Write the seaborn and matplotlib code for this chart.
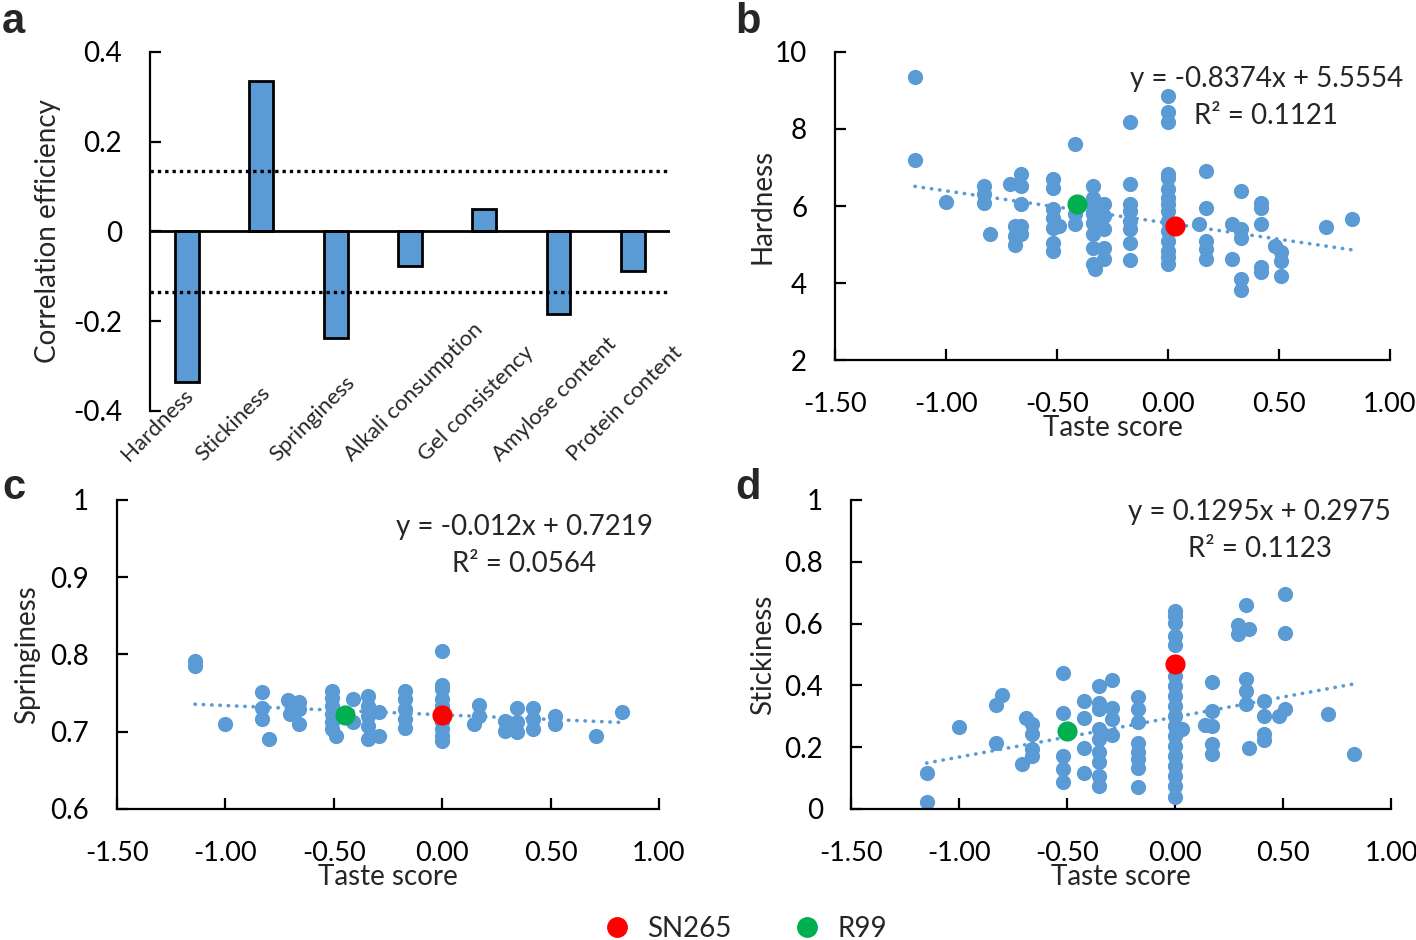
import matplotlib
matplotlib.use("Agg")
import matplotlib.pyplot as plt
from matplotlib.lines import Line2D
from matplotlib.ticker import FuncFormatter
import matplotlib.transforms as mtransforms
import numpy as np
import seaborn as sns

# panel a: correlation of taste score with each trait
traits = ["Hardness", "Stickiness", "Springiness", "Alkali consumption",
          "Gel consistency", "Amylose content", "Protein content"]
corr_values = [-0.335, 0.336, -0.238, -0.078, 0.051, -0.184, -0.089]
signif_level = 0.135

# panel b: hardness vs taste score
hard_x = ([-1.14] * 2 + [-1.00] + [-0.83] * 3 + [-0.80] + [-0.71] + [-0.69] * 3
          + [-0.66] * 5 + [-0.52] * 7 + [-0.49] + [-0.42] * 3 + [-0.34] * 8
          + [-0.33] + [-0.29] * 5 + [-0.17] * 8 + [0.00] * 15 + [0.14]
          + [0.17] * 5 + [0.29] * 2 + [0.33] * 5 + [0.42] * 5 + [0.48]
          + [0.51] * 3 + [0.71] + [0.83])
hard_y = [9.36, 7.20,
          6.10,
          6.52, 6.30, 6.07,
          5.27,
          6.58,
          5.48, 5.23, 5.00,
          6.83, 6.52, 6.04, 5.48, 5.27,
          6.69, 6.47, 5.91, 5.70, 5.44, 5.05, 4.82,
          5.48,
          7.61, 5.78, 5.53,
          6.52, 6.22, 6.00, 5.78, 5.57, 5.27, 4.92, 4.49,
          4.37,
          6.04, 5.74, 5.40, 4.92, 4.62,
          8.17, 6.56, 6.04, 5.87, 5.61, 5.40, 5.05, 4.60,
          8.86, 8.45, 8.17, 6.82, 6.73, 6.43, 6.22, 6.04, 5.87, 5.61, 5.35,
          5.10, 4.84, 4.67, 4.49,
          5.54,
          6.92, 5.96, 5.10, 4.88, 4.62,
          5.53, 4.62,
          6.39, 5.40, 5.18, 4.11, 3.81,
          6.09, 5.96, 5.53, 4.41, 4.28,
          4.97,
          4.80, 4.58, 4.17,
          5.46,
          5.66]

# panel c: springiness vs taste score
spring_x = ([-1.14] * 2 + [-1.00] + [-0.83] * 3 + [-0.80] + [-0.71] + [-0.70]
            + [-0.66] * 3 + [-0.51] * 6 + [-0.49] + [-0.41] * 2 + [-0.34] * 5
            + [-0.29] * 2 + [-0.17] * 5 + [0.00] * 9 + [0.145] + [0.17] * 2
            + [0.29] * 2 + [0.345] * 3 + [0.42] * 3 + [0.52] * 2 + [0.71] + [0.83])
spring_y = [0.791, 0.785,
            0.710,
            0.751, 0.731, 0.716,
            0.690,
            0.741,
            0.723,
            0.738, 0.729, 0.710,
            0.753, 0.744, 0.733, 0.723, 0.712, 0.704,
            0.695,
            0.742, 0.712,
            0.746, 0.733, 0.720, 0.708, 0.690,
            0.725, 0.695,
            0.753, 0.742, 0.729, 0.716, 0.705,
            0.805, 0.761, 0.755, 0.742, 0.733, 0.712, 0.703, 0.695, 0.688,
            0.710,
            0.735, 0.720,
            0.714, 0.701,
            0.731, 0.712, 0.699,
            0.731, 0.716, 0.703,
            0.720, 0.710,
            0.695,
            0.726]

# panel d: stickiness vs taste score
stick_x = ([-1.15] * 2 + [-1.00] + [-0.83] * 2 + [-0.80] + [-0.71] + [-0.69]
           + [-0.66] * 4 + [-0.52] * 5 + [-0.42] * 4 + [-0.35] * 9
           + [-0.29] * 4 + [-0.17] * 8 + [0.00] * 18 + [0.03] + [0.14]
           + [0.17] * 5 + [0.29] * 2 + [0.33] * 4 + [0.34] * 2 + [0.41] * 4
           + [0.48] + [0.51] * 3 + [0.71] + [0.83])
stick_y = [0.116, 0.021,
           0.266,
           0.335, 0.215,
           0.368,
           0.145,
           0.296,
           0.274, 0.242, 0.194, 0.172,
           0.441, 0.312, 0.172, 0.129, 0.086,
           0.349, 0.296, 0.196, 0.118,
           0.398, 0.344, 0.323, 0.258, 0.226, 0.183, 0.151, 0.108, 0.075,
           0.417, 0.328, 0.290, 0.239,
           0.363, 0.323, 0.280, 0.215, 0.183, 0.161, 0.134, 0.072,
           0.640, 0.624, 0.602, 0.559, 0.532, 0.430, 0.398, 0.366, 0.333,
           0.301, 0.269, 0.237, 0.204, 0.172, 0.140, 0.108, 0.075, 0.038,
           0.258,
           0.271,
           0.411, 0.317, 0.267, 0.210, 0.177,
           0.597, 0.565,
           0.661, 0.421, 0.382, 0.339,
           0.581, 0.196,
           0.349, 0.301, 0.242, 0.224,
           0.301,
           0.696, 0.570, 0.323,
           0.306,
           0.177]

# highlighted varieties (taste score, trait) per panel
sn265 = {"b": (0.03, 5.48), "c": (0.0, 0.722), "d": (0.0, 0.468)}
r99 = {"b": (-0.41, 6.04), "c": (-0.45, 0.722), "d": (-0.50, 0.253)}

# linear fits as printed on the chart
fit_slope = {"b": -0.8374, "c": -0.012, "d": 0.1295}
fit_intercept = {"b": 5.5554, "c": 0.7219, "d": 0.2975}
fit_r2 = {"b": "0.1121", "c": "0.0564", "d": "0.1123"}

x_ticks = [-1.5, -1.0, -0.5, 0.0, 0.5, 1.0]

blue = "#5B9BD5"
red = "#FF0000"
green = "#00B050"

sns.set_style("white")
plt.rcParams["font.family"] = ["Lato", "DejaVu Sans"]
plt.rcParams["axes.linewidth"] = 1.6

fig = plt.figure(figsize=(14.16, 9.4), dpi=100)

ax_a = fig.add_axes([0.1059, 0.5628, 0.3672, 0.3819])
ax_b = fig.add_axes([0.5897, 0.6170, 0.3919, 0.3277])
ax_c = fig.add_axes([0.0826, 0.1394, 0.3828, 0.3287])
ax_d = fig.add_axes([0.6010, 0.1394, 0.3814, 0.3287])
for ax in [ax_b, ax_c, ax_d]:
    ax.patch.set_visible(False)

general = FuncFormatter(lambda v, p: f"{round(v, 6) + 0:g}")


def style_axes(ax):
    for side in ["top", "right"]:
        ax.spines[side].set_visible(False)
    for side in ["left", "bottom"]:
        ax.spines[side].set_color("black")
    ax.tick_params(axis="y", direction="in", length=8, width=1.6, pad=20,
                   labelsize=20, left=True, colors="black")
    ax.tick_params(axis="x", direction="in", length=8, width=1.6, pad=23,
                   labelsize=19.5, bottom=True, colors="black")


# ---- panel a ----
sns.barplot(x=traits, y=corr_values, color=blue, saturation=1,
            edgecolor="black", linewidth=2, width=0.32, ax=ax_a)
style_axes(ax_a)
ax_a.spines["bottom"].set_visible(False)
ax_a.set_ylim(-0.4, 0.4)
ax_a.set_xlim(-0.5, len(traits) - 0.5)
ax_a.set_yticks([-0.4, -0.2, 0, 0.2, 0.4])
ax_a.yaxis.set_major_formatter(general)
ax_a.axhline(0, color="black", lw=2, zorder=1)
for lvl in [signif_level, -signif_level]:
    ax_a.axhline(lvl, color="black", lw=2.4, ls=(0, (1, 1.2)), zorder=3)
ax_a.tick_params(axis="x", length=0, labelbottom=False)
ax_a.set_xlabel("")
# category names written upward from a start point left of each bar
blend = mtransforms.blended_transform_factory(ax_a.transData, ax_a.transAxes)
for i, name in enumerate(traits):
    ax_a.text(i - 0.78, -0.142, name, transform=blend, rotation=45,
              rotation_mode="anchor", ha="left", va="baseline", fontsize=16,
              clip_on=False)
ax_a.set_ylabel("Correlation efficiency", fontsize=20)
ax_a.yaxis.set_label_coords(-0.172, 0.5)


# ---- scatter panels ----
def scatter_panel(ax, key, xs, ys, ylim, yticks, ylabel, text_pos):
    sns.scatterplot(x=xs, y=ys, color=blue, s=120, linewidth=0, ax=ax,
                    zorder=2, legend=False)
    xf = np.array([min(xs), max(xs)])
    ax.plot(xf, fit_slope[key] * xf + fit_intercept[key], color=blue, lw=2.6,
            ls=(0, (0.1, 2.2)), dash_capstyle="round", zorder=3)
    sx, sy = sn265[key]
    gx, gy = r99[key]
    sns.scatterplot(x=[sx], y=[sy], color=red, s=210, linewidth=0, ax=ax,
                    zorder=4, legend=False)
    sns.scatterplot(x=[gx], y=[gy], color=green, s=210, linewidth=0, ax=ax,
                    zorder=4, legend=False)
    style_axes(ax)
    ax.set_xlim(-1.5, 1.0)
    ax.set_ylim(*ylim)
    ax.set_xticks(x_ticks)
    ax.xaxis.set_major_formatter(FuncFormatter(lambda v, p: f"{v:.2f}"))
    ax.set_yticks(yticks)
    ax.yaxis.set_major_formatter(general)
    ax.set_xlabel("Taste score", fontsize=20, va="top")
    ax.xaxis.set_label_coords(0.5, -0.178)
    ax.set_ylabel(ylabel, fontsize=20)
    ax.yaxis.set_label_coords(text_pos[2], 0.5)
    sign = "-" if fit_slope[key] < 0 else ""
    eq = (f"y = {sign}{abs(fit_slope[key]):g}x + {fit_intercept[key]:g}\n"
          f"R\u00b2 = {fit_r2[key]}")
    ax.text(text_pos[0], text_pos[1], eq, transform=ax.transAxes, ha="center",
            va="center", fontsize=20, linespacing=1.5)


scatter_panel(ax_b, "b", hard_x, hard_y, (2, 10), [2, 4, 6, 8, 10],
              "Hardness", (0.777, 0.852, -0.108))
scatter_panel(ax_c, "c", spring_x, spring_y, (0.6, 1.0),
              [0.6, 0.7, 0.8, 0.9, 1.0], "Springiness", (0.751, 0.852, -0.142))
scatter_panel(ax_d, "d", stick_x, stick_y, (0, 1.0),
              [0, 0.2, 0.4, 0.6, 0.8, 1.0], "Stickiness", (0.757, 0.901, -0.139))

# panel letters
for letter, (px, py) in {"a": (2, 2), "b": (735, 2), "c": (2, 468),
                         "d": (735, 468)}.items():
    fig.text(px / 1416, 1 - py / 940, letter, fontsize=30, fontweight="bold",
             family=["Liberation Sans", "DejaVu Sans"], ha="left", va="top")

# legend
handles = [Line2D([], [], marker="o", ls="", color=red, markersize=14),
           Line2D([], [], marker="o", ls="", color=green, markersize=14)]
fig.legend(handles, ["SN265", "R99"], loc="center", ncol=2, frameon=False,
           bbox_to_anchor=(0.526, 0.012), fontsize=20, handlelength=1.0,
           handletextpad=0.6, columnspacing=2.2)

fig.savefig("out.png", dpi=100)
